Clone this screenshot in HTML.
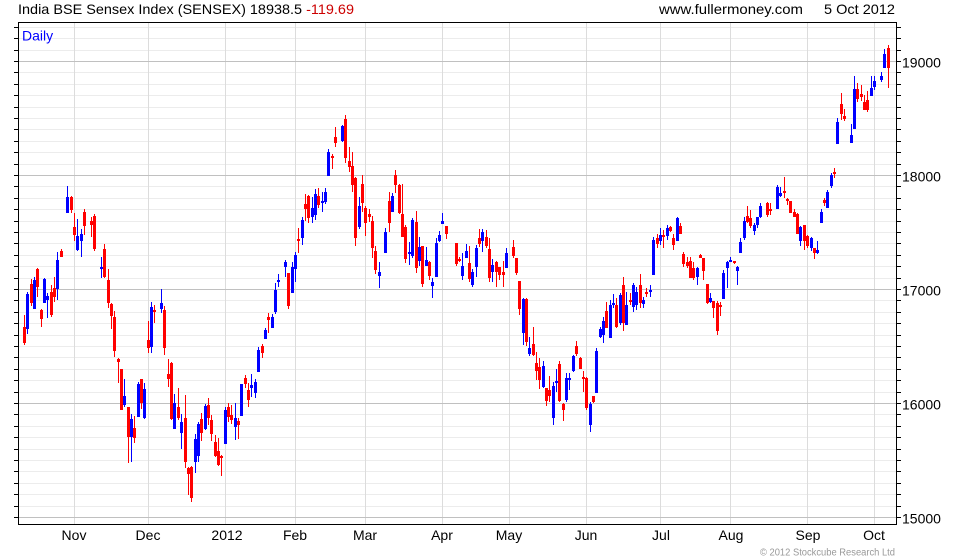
<!DOCTYPE html>
<html><head><meta charset="utf-8"><style>html,body{margin:0;padding:0;background:#fff;width:980px;height:560px;overflow:hidden}svg{display:block}</style></head><body>
<svg width="980" height="560" viewBox="0 0 980 560" xmlns="http://www.w3.org/2000/svg" font-family="'Liberation Sans', Arial, sans-serif">
<rect width="980" height="560" fill="#fff"/>
<g stroke="#ececec" stroke-width="1">
<path d="M18 506.5H896M18 494.5H896M18 483.5H896M18 471.5H896M18 460.5H896M18 449.5H896M18 437.5H896M18 426.5H896M18 414.5H896M18 392.5H896M18 380.5H896M18 369.5H896M18 357.5H896M18 346.5H896M18 335.5H896M18 323.5H896M18 312.5H896M18 300.5H896M18 278.5H896M18 266.5H896M18 255.5H896M18 243.5H896M18 232.5H896M18 221.5H896M18 209.5H896M18 198.5H896M18 186.5H896M18 164.5H896M18 152.5H896M18 141.5H896M18 129.5H896M18 118.5H896M18 107.5H896M18 95.5H896M18 84.5H896M18 72.5H896M18 50.5H896M18 38.5H896M18 27.5H896"/>
</g>
<g stroke="#dcdcdc" stroke-width="1">
<path d="M74.5 22V524M148.5 22V524M225.5 22V524M295.5 22V524M365.5 22V524M442.5 22V524M509.5 22V524M586.5 22V524M660.5 22V524M730.5 22V524M807.5 22V524M874.5 22V524"/>
</g>
<g stroke="#c0c0c0" stroke-width="1">
<path d="M18 517.5H896M18 403.5H896M18 289.5H896M18 175.5H896M18 61.5H896"/>
</g>
<g stroke="#000" stroke-width="1">
<path d="M14 517.5H18M14 506.5H18M14 494.5H18M14 483.5H18M14 471.5H18M14 460.5H18M14 449.5H18M14 437.5H18M14 426.5H18M14 414.5H18M14 403.5H18M14 392.5H18M14 380.5H18M14 369.5H18M14 357.5H18M14 346.5H18M14 335.5H18M14 323.5H18M14 312.5H18M14 300.5H18M14 289.5H18M14 278.5H18M14 266.5H18M14 255.5H18M14 243.5H18M14 232.5H18M14 221.5H18M14 209.5H18M14 198.5H18M14 186.5H18M14 175.5H18M14 164.5H18M14 152.5H18M14 141.5H18M14 129.5H18M14 118.5H18M14 107.5H18M14 95.5H18M14 84.5H18M14 72.5H18M14 61.5H18M14 50.5H18M14 38.5H18M14 27.5H18"/>
<path d="M896 517.5H901M896 506.5H901M896 494.5H901M896 483.5H901M896 471.5H901M896 460.5H901M896 449.5H901M896 437.5H901M896 426.5H901M896 414.5H901M896 403.5H901M896 392.5H901M896 380.5H901M896 369.5H901M896 357.5H901M896 346.5H901M896 335.5H901M896 323.5H901M896 312.5H901M896 300.5H901M896 289.5H901M896 278.5H901M896 266.5H901M896 255.5H901M896 243.5H901M896 232.5H901M896 221.5H901M896 209.5H901M896 198.5H901M896 186.5H901M896 175.5H901M896 164.5H901M896 152.5H901M896 141.5H901M896 129.5H901M896 118.5H901M896 107.5H901M896 95.5H901M896 84.5H901M896 72.5H901M896 61.5H901M896 50.5H901M896 38.5H901M896 27.5H901"/>
</g>
<!-- red wicks -->
<path fill="none" stroke="#ff0000" stroke-width="1" d="M24.5 315V345M31.5 279V306M37.5 268V297M41.5 309V327M51.5 285V317M54.5 277V302M61.5 249V257M71.5 196V213M74.5 213V241M84.5 209V235M91.5 217V237M94.5 214V251M104.5 244V278M108.5 269V308M111.5 303V329M114.5 311V357M118.5 358V383M121.5 369V410M128.5 407V463M134.5 416V443M141.5 379V409M148.5 321V353M154.5 305V323M164.5 306V355M168.5 359V387M171.5 362V420M178.5 388V420M185.5 395V468M188.5 467V495M191.5 466V502M201.5 413V441M208.5 398V425M211.5 415V441M215.5 435V457M218.5 438V466M221.5 455V476M228.5 403V422M231.5 405V424M238.5 418V439M245.5 375V388M248.5 383V407M262.5 344V358M268.5 313V333M288.5 273V309M298.5 228V253M305.5 194V221M308.5 195V223M318.5 188V208M332.5 154V169M335.5 127V147M345.5 115V163M349.5 147V172M352.5 152V192M355.5 177V246M362.5 175V212M365.5 206V236M369.5 209V222M372.5 216V258M375.5 246V274M389.5 192V232M395.5 170V193M399.5 184V214M402.5 184V237M405.5 225V263M416.5 211V273M422.5 246V287M429.5 261V280M446.5 226V239M456.5 243V266M459.5 257V262M469.5 246V282M479.5 229V247M486.5 230V248M489.5 238V282M496.5 261V287M499.5 267V280M503.5 261V287M513.5 240V258M516.5 258V275M519.5 281V315M526.5 298V346M533.5 327V356M536.5 352V380M539.5 358V389M546.5 388V406M549.5 376V402M559.5 361V402M563.5 403V421M576.5 341V356M580.5 357V369M583.5 371V392M586.5 377V410M593.5 396V403M606.5 302V328M616.5 298V328M623.5 277V331M630.5 293V305M640.5 274V308M646.5 288V297M657.5 234V248M663.5 230V248M670.5 226V232M673.5 234V250M680.5 223V234M683.5 252V267M687.5 257V268M690.5 257V278M693.5 262V280M700.5 254V258M703.5 258V280M707.5 284V304M713.5 301V318M717.5 301V335M720.5 302V316M734.5 261V264M747.5 206V223M750.5 210V228M767.5 202V217M770.5 203V215M784.5 177V198M787.5 198V205M790.5 201V213M794.5 209V217M797.5 213V234M804.5 225V250M807.5 235V248M814.5 248V259M824.5 198V206M834.5 168V178M841.5 93V120M844.5 109V121M857.5 83V102M861.5 85V101M864.5 95V110M867.5 91V112M888.5 45V88"/>
<!-- red bodies -->
<path fill="none" stroke="#ff0000" stroke-width="3" d="M24.5 327V343M31.5 284V303M37.5 269V287M41.5 310V319M51.5 292V315M54.5 288V297M61.5 251V257M71.5 197V210M74.5 227V235M84.5 212V226M91.5 221V225M94.5 216V249M104.5 249V277M108.5 280V303M111.5 304V316M114.5 317V351M118.5 359V362M121.5 369V410M128.5 407V437M134.5 428V438M141.5 379V403M148.5 340V348M154.5 310V312M164.5 310V348M168.5 374V379M171.5 363V419M178.5 407V418M185.5 418V462M188.5 468V474M191.5 467V498M201.5 419V433M208.5 405V418M211.5 420V434M215.5 442V456M218.5 451V465M221.5 456V458M228.5 407V417M231.5 415V420M238.5 421V425M245.5 378V384M248.5 390V400M262.5 346V353M268.5 317V320M288.5 273V306M298.5 239V241M305.5 204V209M308.5 196V218M318.5 196V205M332.5 156V158M335.5 137V143M345.5 119V158M349.5 161V167M352.5 166V185M355.5 178V238M362.5 184V203M365.5 208V223M369.5 214V217M372.5 221V248M375.5 251V270M389.5 201V223M395.5 175V185M399.5 185V213M402.5 214V237M405.5 227V259M416.5 222V268M422.5 246V284M429.5 262V276M446.5 226V234M456.5 243V264M459.5 259V261M469.5 263V279M479.5 238V244M486.5 237V246M489.5 249V278M496.5 262V272M499.5 267V275M503.5 272V275M513.5 247V256M516.5 258V273M519.5 281V309M526.5 299V342M533.5 344V355M536.5 363V371M539.5 367V380M546.5 388V401M549.5 390V396M559.5 364V401M563.5 404V410M576.5 346V354M580.5 358V369M583.5 377V379M586.5 378V408M593.5 396V402M606.5 311V328M616.5 305V327M623.5 285V323M630.5 300V302M640.5 285V303M646.5 292V294M657.5 238V244M663.5 235V237M670.5 227V231M673.5 238V245M680.5 226V234M683.5 254V264M687.5 262V266M690.5 261V278M693.5 268V278M700.5 255V258M703.5 258V271M707.5 284V303M713.5 301V308M717.5 303V331M720.5 305V307M734.5 261V263M747.5 216V222M750.5 218V226M767.5 203V215M770.5 209V211M784.5 191V193M787.5 199V201M790.5 201V213M794.5 212V217M797.5 214V234M804.5 225V241M807.5 236V246M814.5 248V253M824.5 200V203M834.5 172V174M841.5 104V114M844.5 116V119M857.5 89V99M861.5 94V97M864.5 102V110M867.5 100V110M888.5 48V68"/>
<!-- blue wicks -->
<path fill="none" stroke="#0000ff" stroke-width="1" d="M27.5 292V334M34.5 277V309M44.5 278V303M47.5 293V318M57.5 252V300M67.5 186V213M77.5 219V251M81.5 229V257M101.5 257V278M124.5 379V407M131.5 414V462M138.5 382V417M144.5 383V419M151.5 302V353M161.5 289V313M174.5 394V429M181.5 414V449M195.5 434V473M198.5 422V462M205.5 404V430M225.5 407V444M235.5 403V440M241.5 384V416M251.5 374V397M255.5 379V398M258.5 347V372M265.5 328V339M272.5 314V328M275.5 283V314M278.5 274V287M285.5 260V277M292.5 262V293M295.5 252V282M302.5 217V245M312.5 197V223M315.5 189V220M322.5 192V212M325.5 188V204M328.5 149V176M342.5 125V142M359.5 197V229M379.5 262V288M385.5 228V253M392.5 193V212M409.5 242V265M412.5 218V258M419.5 237V266M426.5 247V266M432.5 278V298M436.5 238V277M439.5 231V242M442.5 213V224M462.5 253V280M466.5 244V258M472.5 269V287M476.5 245V277M482.5 229V252M492.5 259V282M506.5 248V268M523.5 298V345M529.5 337V356M543.5 361V388M553.5 382V425M556.5 369V392M566.5 373V402M569.5 373V390M573.5 355V372M590.5 402V432M596.5 348V393M600.5 327V338M603.5 317V343M610.5 300V338M613.5 294V308M620.5 293V325M626.5 292V325M633.5 283V312M636.5 287V310M643.5 297V308M650.5 285V297M653.5 237V275M660.5 228V245M667.5 225V240M677.5 217V241M697.5 267V285M710.5 293V303M723.5 270V299M727.5 261V288M730.5 257V262M737.5 266V285M740.5 238V253M744.5 217V240M754.5 223V235M757.5 217V228M760.5 203V218M777.5 185V209M780.5 187V197M800.5 226V246M811.5 237V251M817.5 241V254M821.5 209V223M827.5 190V208M831.5 173V188M837.5 118V144M851.5 124V143M854.5 76V129M871.5 76V96M874.5 76V90M881.5 72V82M884.5 49V68"/>
<!-- blue bodies -->
<path fill="none" stroke="#0000ff" stroke-width="3" d="M27.5 294V329M34.5 280V309M44.5 279V303M47.5 296V300M57.5 260V289M67.5 197V213M77.5 236V250M81.5 234V241M101.5 267V269M124.5 396V405M131.5 419V437M138.5 384V417M144.5 389V418M151.5 307V347M161.5 303V309M174.5 403V429M181.5 422V433M195.5 439V462M198.5 424V456M205.5 406V429M225.5 410V444M235.5 418V427M241.5 384V416M251.5 385V388M255.5 382V393M258.5 350V372M265.5 330V339M272.5 317V328M275.5 290V312M278.5 280V282M285.5 262V267M292.5 267V293M295.5 255V269M302.5 220V238M312.5 208V217M315.5 194V215M322.5 201V203M325.5 192V202M328.5 152V176M342.5 126V141M359.5 206V227M379.5 272V276M385.5 232V253M392.5 196V212M409.5 252V254M412.5 220V256M419.5 247V261M426.5 260V266M432.5 282V286M436.5 243V277M439.5 235V241M442.5 221V224M462.5 266V276M466.5 251V258M472.5 272V285M476.5 248V267M482.5 232V241M492.5 265V272M506.5 253V268M523.5 299V333M529.5 348V354M543.5 366V387M553.5 386V418M556.5 381V383M566.5 378V400M569.5 378V380M573.5 356V371M590.5 404V425M596.5 351V393M600.5 329V337M603.5 321V335M610.5 305V338M613.5 303V305M620.5 295V323M626.5 305V325M633.5 285V307M636.5 292V305M643.5 300V304M650.5 290V292M653.5 240V275M660.5 235V241M667.5 228V236M677.5 218V241M697.5 268V277M710.5 298V302M723.5 273V299M727.5 262V268M730.5 260V262M737.5 267V271M740.5 242V253M744.5 221V238M754.5 225V231M757.5 217V225M760.5 206V217M777.5 187V209M780.5 193V196M800.5 227V241M811.5 238V248M817.5 250V253M821.5 212V223M827.5 192V208M831.5 175V186M837.5 122V144M851.5 135V143M854.5 89V129M871.5 88V96M874.5 81V87M881.5 76V80M884.5 54V68"/>
<rect x="18.5" y="22.5" width="878" height="502" fill="none" stroke="#000" stroke-width="1"/>
<text x="18" y="14" font-size="14" fill="#000" textLength="336" lengthAdjust="spacingAndGlyphs">India BSE Sensex Index (SENSEX) 18938.5 <tspan fill="#cc0000">-119.69</tspan></text>
<text x="659" y="14" font-size="14" fill="#000" textLength="144" lengthAdjust="spacingAndGlyphs">www.fullermoney.com</text>
<text x="824" y="14" font-size="14" fill="#000" textLength="71" lengthAdjust="spacingAndGlyphs">5 Oct 2012</text>
<text x="22" y="40.5" font-size="14" fill="#0000ff">Daily</text>
<g font-size="14" fill="#000">
<text x="902" y="67.5">19000</text>
<text x="902" y="181.5">18000</text>
<text x="902" y="295.5">17000</text>
<text x="902" y="409.5">16000</text>
<text x="902" y="523.5">15000</text>
</g>
<g font-size="14" fill="#000" text-anchor="middle">
<text x="74" y="540">Nov</text>
<text x="148" y="540">Dec</text>
<text x="227" y="540">2012</text>
<text x="295" y="540">Feb</text>
<text x="365" y="540">Mar</text>
<text x="442" y="540">Apr</text>
<text x="509" y="540">May</text>
<text x="586" y="540">Jun</text>
<text x="661" y="540">Jul</text>
<text x="731" y="540">Aug</text>
<text x="808" y="540">Sep</text>
<text x="874" y="540">Oct</text>
</g>
<text x="760" y="555.5" font-size="10" fill="#999" textLength="135" lengthAdjust="spacingAndGlyphs">© 2012 Stockcube Research Ltd</text>
</svg>
</body></html>
